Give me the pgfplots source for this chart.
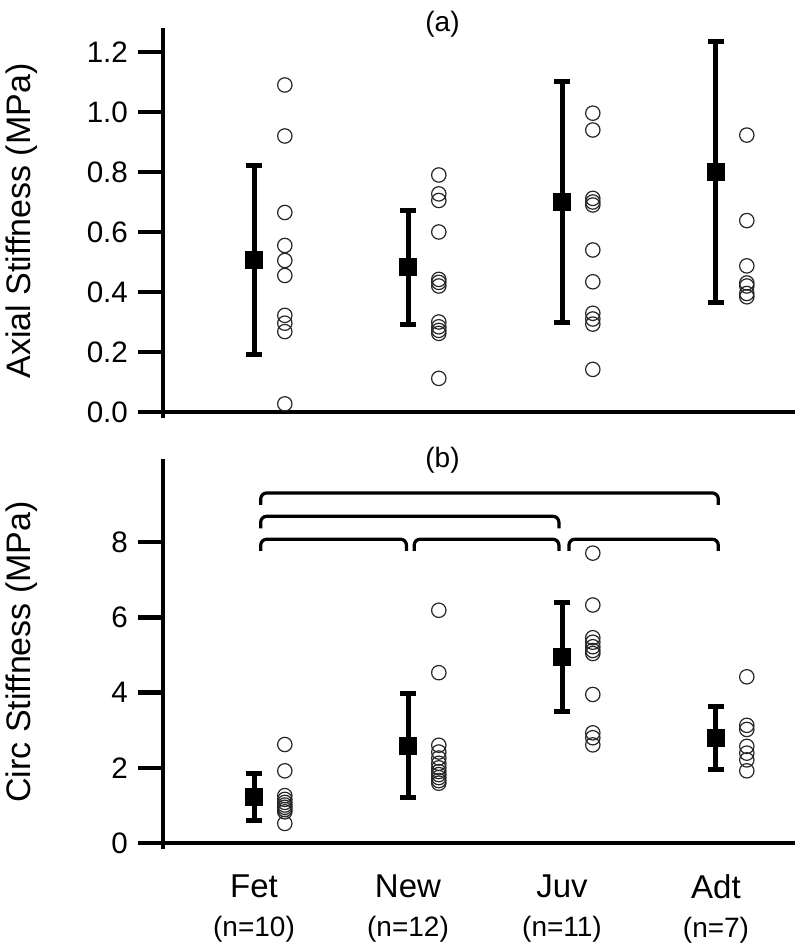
\documentclass[border=0pt]{standalone}
\usepackage{fontspec}
\setmainfont{Liberation Sans}
\usepackage{pgfplots}
\pgfplotsset{compat=1.18}

\begin{document}
\begin{tikzpicture}
\useasboundingbox (-81.5pt,-268pt) rectangle (318.5pt,206pt);
\pgfplotsset{
  panel/.style={
    scale only axis, width=315pt, height=191pt,
    xmin=-0.591, xmax=3.5, ymin=0,
    axis x line*=bottom, axis y line*=left,
    axis line style={line width=2.1pt, line cap=rect},
    tick align=outside, major tick length=12.5pt,
    ytick style={line width=2.2pt, black},
    xtick style={draw=none},
    minor tick num=0,
    /pgf/number format/assume math mode=true,
    yticklabel style={font=\fontsize{14.8}{16}\selectfont, xshift=-1.5pt},
    ylabel style={font=\fontsize{17}{20}\selectfont, at={(axis description cs:-0.2238,0.5)}, anchor=center},
    clip=false,
  },
  pts/.style={only marks, mark=o, mark size=3.6pt, black!85, mark options={line width=0.6pt}},
  mean/.style={only marks, mark=square*, mark size=4.25pt, black,
    error bars/.cd, y dir=both, y explicit,
    error bar style={line width=2.5pt, black},
    error mark=|,
    error mark options={line width=2.5pt, mark size=3.9pt, black}},
  brk/.style={black, line width=1.6pt, rounded corners=3pt, no marks, sharp plot},
}

% ---------- (a) Axial stiffness ----------
\begin{axis}[panel, at={(0,0)}, anchor=south west,
  ymax=1.2733, ytick={0,0.2,0.4,0.6,0.8,1.0,1.2},
  yticklabel style={/pgf/number format/.cd, fixed, fixed zerofill, precision=1},
  xtick=\empty,
  ylabel={Axial Stiffness (MPa)}]
\draw[line width=2.1pt] (axis cs:-0.591,0) -- ++(0pt,-3pt);
\addplot[pts] coordinates {
 (0.2,1.09) (0.2,0.92) (0.2,0.665) (0.2,0.555) (0.2,0.505) (0.2,0.455)
 (0.2,0.322) (0.2,0.296) (0.2,0.268) (0.2,0.027)
 (1.2,0.79) (1.2,0.727) (1.2,0.705) (1.2,0.60) (1.2,0.442) (1.2,0.432) (1.2,0.42)
 (1.2,0.30) (1.2,0.284) (1.2,0.272) (1.2,0.262) (1.2,0.112)
 (2.2,0.996) (2.2,0.94) (2.2,0.712) (2.2,0.70) (2.2,0.69) (2.2,0.54) (2.2,0.434)
 (2.2,0.329) (2.2,0.31) (2.2,0.293) (2.2,0.142)
 (3.2,0.923) (3.2,0.638) (3.2,0.487) (3.2,0.43) (3.2,0.42) (3.2,0.395) (3.2,0.384)
};
\addplot[mean] coordinates {
 (0,0.507) +- (0,0.316)
 (1,0.482) +- (0,0.191)
 (2,0.699) +- (0,0.402)
 (3,0.801) +- (0,0.435)
};
\node[font=\fontsize{14}{16}\selectfont] at (axis cs:1.224,1.293) {(a)};
\end{axis}

% ---------- (b) Circumferential stiffness ----------
\begin{axis}[panel, at={(0,-215.5pt)}, anchor=south west,
  ymax=10.16, ytick={0,2,4,6,8},
  xtick={0,1,2,3},
  xticklabel style={font=\fontsize{16.5}{19.5}\selectfont, align=center},
  xticklabels={{Fet\\{\fontsize{14}{19.5}\selectfont (n=10)}},
               {New\\{\fontsize{14}{19.5}\selectfont (n=12)}},
               {Juv\\{\fontsize{14}{19.5}\selectfont (n=11)}},
               {Adt\\{\fontsize{14}{19.5}\selectfont (n=7)}}},
  ylabel={Circ Stiffness (MPa)}]
\draw[line width=2.1pt] (axis cs:-0.591,0) -- ++(0pt,-3pt);
\addplot[pts] coordinates {
 (0.2,2.62) (0.2,1.92) (0.2,1.26) (0.2,1.16) (0.2,1.08) (0.2,1.01) (0.2,0.95)
 (0.2,0.89) (0.2,0.83) (0.2,0.52)
 (1.2,6.19) (1.2,4.53) (1.2,2.6) (1.2,2.42) (1.2,2.26) (1.2,2.12) (1.2,2.0)
 (1.2,1.9) (1.2,1.82) (1.2,1.74) (1.2,1.66) (1.2,1.59)
 (2.2,7.71) (2.2,6.33) (2.2,5.46) (2.2,5.34) (2.2,5.22) (2.2,5.12) (2.2,5.04)
 (2.2,3.95) (2.2,2.93) (2.2,2.8) (2.2,2.61)
 (3.2,4.42) (3.2,3.13) (3.2,3.02) (3.2,2.57) (3.2,2.39) (3.2,2.21) (3.2,1.92)
};
\addplot[mean] coordinates {
 (0,1.22) +- (0,0.625)
 (1,2.59) +- (0,1.38)
 (2,4.94) +- (0,1.445)
 (3,2.79) +- (0,0.83)
};
% significance brackets
\addplot[brk] coordinates {(0.0435,8.99) (0.0435,9.31) (3.015,9.31) (3.015,8.99)};
\addplot[brk] coordinates {(0.0435,8.37) (0.0435,8.69) (1.98,8.69) (1.98,8.37)};
\addplot[brk] coordinates {(0.0435,7.77) (0.0435,8.08) (0.99,8.08) (0.99,7.77)};
\addplot[brk] coordinates {(1.04,7.77) (1.04,8.08) (1.98,8.08) (1.98,7.77)};
\addplot[brk] coordinates {(2.045,7.77) (2.045,8.08) (3.015,8.08) (3.015,7.77)};
\node[font=\fontsize{14}{16}\selectfont] at (axis cs:1.224,10.17) {(b)};
\end{axis}
\end{tikzpicture}
\end{document}
